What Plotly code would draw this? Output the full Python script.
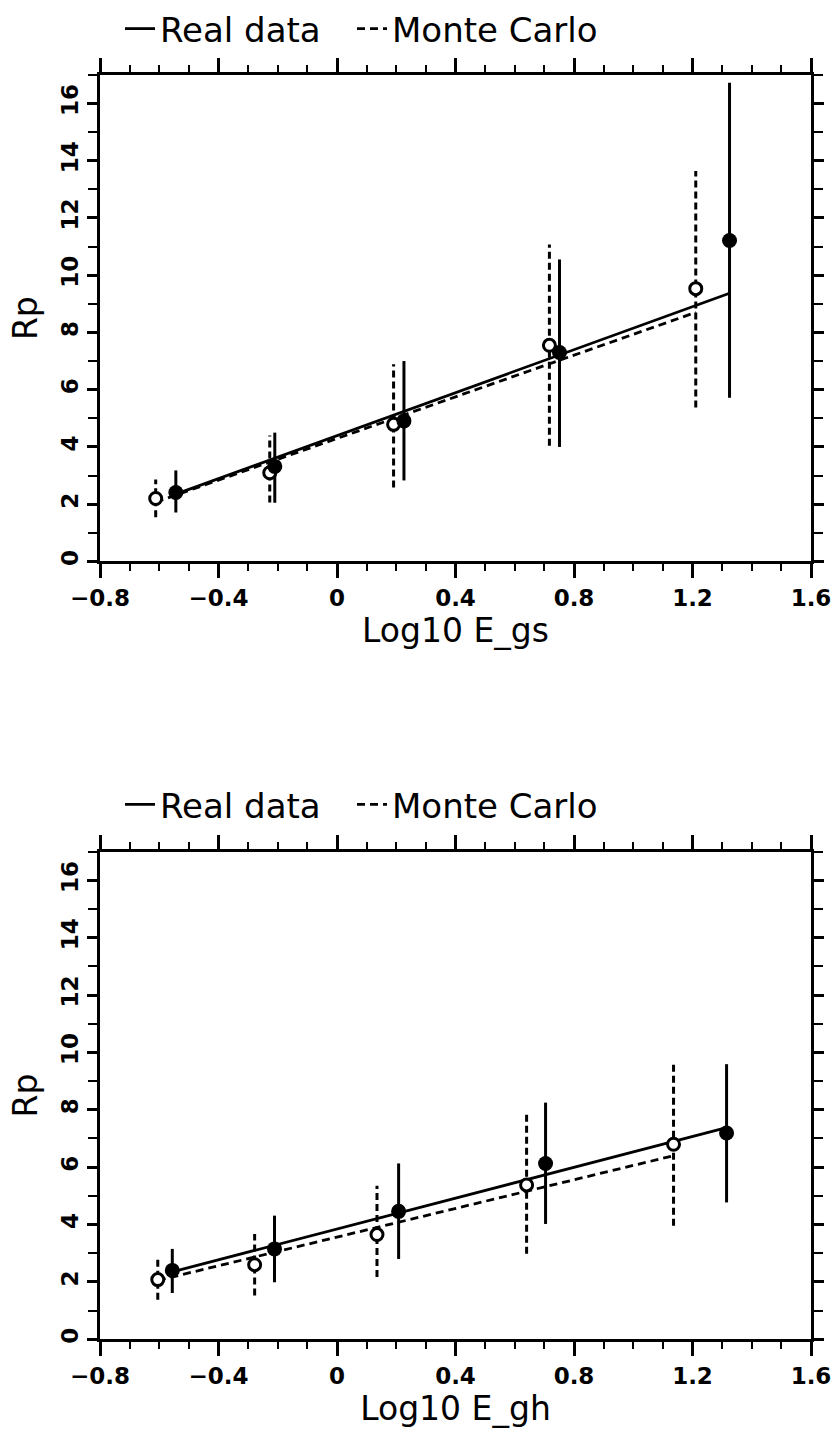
import plotly.graph_objects as go

# ---------------- data: top panel (E_gs) ----------------
gs_real_x = [-0.544, -0.210, 0.226, 0.751, 1.325]
gs_real_y = [2.41, 3.32, 4.91, 7.30, 11.21]
gs_real_lo = [1.71, 2.05, 2.83, 4.00, 5.72]
gs_real_hi = [3.18, 4.50, 7.00, 10.55, 16.72]

gs_mc_x = [-0.612, -0.227, 0.191, 0.717, 1.211]
gs_mc_y = [2.20, 3.10, 4.79, 7.55, 9.53]
gs_mc_lo = [1.54, 2.06, 2.58, 4.04, 5.38]
gs_mc_hi = [2.86, 4.40, 6.89, 11.07, 13.64]

gs_fit_real_x = [-0.544, 1.325]
gs_fit_real_y = [2.35, 9.37]
gs_fit_mc_x = [-0.612, 1.211]
gs_fit_mc_y = [2.07, 8.70]

# ---------------- data: bottom panel (E_gh) ----------------
gh_real_x = [-0.556, -0.211, 0.208, 0.704, 1.315]
gh_real_y = [2.40, 3.15, 4.46, 6.13, 7.19]
gh_real_lo = [1.61, 1.99, 2.80, 4.02, 4.77]
gh_real_hi = [3.15, 4.31, 6.13, 8.25, 9.59]

gh_mc_x = [-0.605, -0.278, 0.135, 0.640, 1.136]
gh_mc_y = [2.08, 2.60, 3.65, 5.38, 6.80]
gh_mc_lo = [1.38, 1.53, 2.17, 2.98, 3.96]
gh_mc_hi = [2.77, 3.67, 5.35, 7.85, 9.70]

gh_fit_real_x = [-0.556, 1.315]
gh_fit_real_y = [2.35, 7.38]
gh_fit_mc_x = [-0.605, 1.136]
gh_fit_mc_y = [2.05, 6.40]

# ---------------- tick labels ----------------
x_tickvals = [-0.8, -0.4, 0, 0.4, 0.8, 1.2, 1.6]
x_ticktext = ["\u22120.8", "\u22120.4", "0", "0.4", "0.8", "1.2", "1.6"]
y_tickvals = [0, 2, 4, 6, 8, 10, 12, 14, 16]
y_ticktext = ["0", "2", "4", "6", "8", "10", "12", "14", "16"]

FONT = "DejaVu Sans"
MC_DASH = "8px,5px"
ERR_DASH = "7px,4px"


def segments(xs, lo, hi):
    sx, sy = [], []
    for x, a, b in zip(xs, lo, hi):
        sx += [x, x, None]
        sy += [a, b, None]
    return sx, sy


fig = go.Figure()


def add_panel(xa, ya, leg_real, leg_mc, rx, ry, rlo, rhi, mx, my, mlo, mhi,
              frx, fry, fmx, fmy):
    # fit lines (also legend entries)
    fig.add_trace(go.Scatter(x=frx, y=fry, mode="lines", name="Real data",
                             line=dict(color="black", width=2.8),
                             xaxis=xa, yaxis=ya, legend=leg_real))
    fig.add_trace(go.Scatter(x=fmx, y=fmy, mode="lines", name="Monte Carlo",
                             line=dict(color="black", width=2.8, dash=MC_DASH),
                             xaxis=xa, yaxis=ya, legend=leg_mc))
    # error bars
    ex, ey = segments(mx, mlo, mhi)
    fig.add_trace(go.Scatter(x=ex, y=ey, mode="lines", showlegend=False,
                             line=dict(color="black", width=3, dash=ERR_DASH),
                             xaxis=xa, yaxis=ya, hoverinfo="skip"))
    ex, ey = segments(rx, rlo, rhi)
    fig.add_trace(go.Scatter(x=ex, y=ey, mode="lines", showlegend=False,
                             line=dict(color="black", width=3),
                             xaxis=xa, yaxis=ya, hoverinfo="skip"))
    # markers
    fig.add_trace(go.Scatter(x=mx, y=my, mode="markers", showlegend=False,
                             marker=dict(symbol="circle", size=12, color="white",
                                         line=dict(color="black", width=3)),
                             xaxis=xa, yaxis=ya))
    fig.add_trace(go.Scatter(x=rx, y=ry, mode="markers", showlegend=False,
                             marker=dict(symbol="circle", size=15, color="black",
                                         line=dict(color="black", width=0)),
                             xaxis=xa, yaxis=ya))


add_panel("x", "y", "legend", "legend2",
          gs_real_x, gs_real_y, gs_real_lo, gs_real_hi,
          gs_mc_x, gs_mc_y, gs_mc_lo, gs_mc_hi,
          gs_fit_real_x, gs_fit_real_y, gs_fit_mc_x, gs_fit_mc_y)
add_panel("x2", "y2", "legend3", "legend4",
          gh_real_x, gh_real_y, gh_real_lo, gh_real_hi,
          gh_mc_x, gh_mc_y, gh_mc_lo, gh_mc_hi,
          gh_fit_real_x, gh_fit_real_y, gh_fit_mc_x, gh_fit_mc_y)

W, H = 840, 1435
xdom = [100 / W, 811 / W]
top_dom = [(H - 559) / H, (H - 71) / H]
bot_dom = [(H - 1339) / H, (H - 850) / H]

TICKFONT = dict(family=FONT, size=23, color="black", weight="bold")
TITLEFONT = dict(family=FONT, size=33, color="black")


def xaxis_cfg(title, anchor):
    return dict(domain=xdom, anchor=anchor, range=[-0.8, 1.6],
                tickvals=x_tickvals, ticktext=x_ticktext,
                ticks="outside", ticklen=14, tickwidth=2.5, tickcolor="black",
                minor=dict(dtick=0.1, tick0=0, ticks="outside", ticklen=7,
                           tickwidth=2, tickcolor="black"),
                showline=True, linecolor="black", linewidth=3, mirror="ticks",
                showgrid=False, zeroline=False,
                tickfont=TICKFONT,
                title=dict(text=title, font=TITLEFONT, standoff=0),
                automargin=False)


def yaxis_cfg(dom, anchor):
    return dict(domain=dom, anchor=anchor, range=[0, 17],
                tickvals=y_tickvals, ticktext=y_ticktext, tickangle=-90,
                ticks="outside", ticklen=10, tickwidth=2.5, tickcolor="black",
                minor=dict(dtick=1, tick0=0, ticks="outside", ticklen=9,
                           tickwidth=2, tickcolor="black"),
                showline=True, linecolor="black", linewidth=3, mirror="ticks",
                showgrid=False, zeroline=False,
                tickfont=TICKFONT,
                title=dict(text="Rp", font=TITLEFONT, standoff=10),
                automargin=False)


legend_common = dict(orientation="h", xanchor="left", yanchor="middle",
                     font=dict(family=FONT, size=34, color="black"),
                     bgcolor="rgba(0,0,0,0)", borderwidth=0,
                     itemclick=False, itemdoubleclick=False)

fig.update_layout(
    width=W, height=H,
    margin=dict(l=0, r=0, t=0, b=0),
    paper_bgcolor="white", plot_bgcolor="white",
    showlegend=True,
    xaxis=xaxis_cfg("Log10 E_gs", "y"),
    yaxis=yaxis_cfg(top_dom, "x"),
    xaxis2=xaxis_cfg("Log10 E_gh", "y2"),
    yaxis2=yaxis_cfg(bot_dom, "x2"),
    legend=dict(x=120 / W, y=(H - 25) / H, **legend_common),
    legend2=dict(x=352 / W, y=(H - 25) / H, **legend_common),
    legend3=dict(x=120 / W, y=(H - 803) / H, **legend_common),
    legend4=dict(x=352 / W, y=(H - 803) / H, **legend_common),
)

fig.write_html("out.html")
